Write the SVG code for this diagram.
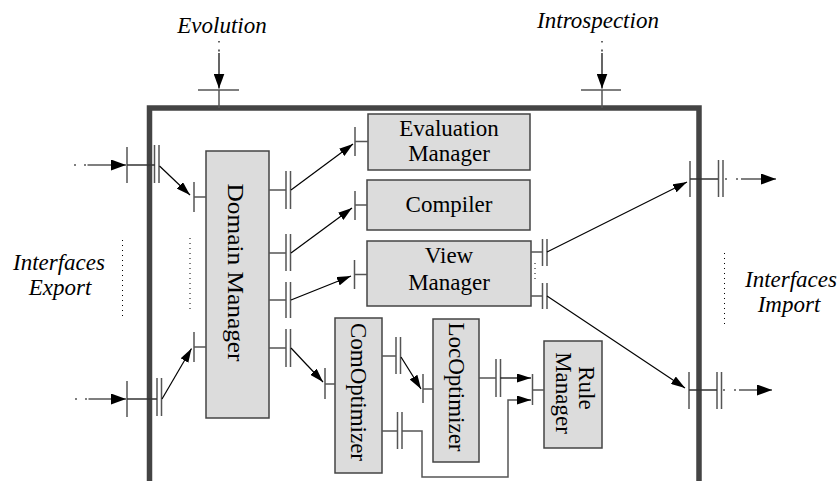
<svg xmlns="http://www.w3.org/2000/svg" width="840" height="481" viewBox="0 0 840 481">
<style>
.box{fill:#dcdcdc;stroke:#444;stroke-width:1.5}
.port{stroke:#555;stroke-width:1.5;fill:none}
.arr{stroke:#000;stroke-width:1.2;fill:none;marker-end:url(#ah)}
.ext{stroke:#000;stroke-width:1.2;fill:none;marker-end:url(#ahb)}
.dot{stroke:#000;stroke-width:1;stroke-dasharray:1 4;fill:none}
.lbl{font-family:"Liberation Serif","Times New Roman",serif;font-size:23px;fill:#000;text-anchor:middle}
.it{font-style:italic}
</style>
<defs>
<marker id="ah" markerWidth="14" markerHeight="9" refX="14" refY="4.5" orient="auto" markerUnits="userSpaceOnUse"><path d="M0,0 L14,4.5 L0,9 z" fill="#000"/></marker>
<marker id="ahb" markerWidth="15" markerHeight="11" refX="15" refY="5.5" orient="auto" markerUnits="userSpaceOnUse"><path d="M0,0 L15,5.5 L0,11 z" fill="#000"/></marker>
</defs>

<g id="system">
<path d="M149.5,481 V108 H699 V481" fill="none" stroke="#444" stroke-width="5.5"/>
<path class="port" d="M198,90 H239 M219,90 V108"/>
<path class="port" d="M581,90 H621 M602,90 V108"/>
<path class="port" d="M127,147 V183 M154.5,145 V183 M159,145 V183"/>
<path d="M127,165 H155" stroke="#333" stroke-width="1.5"/>
<path class="port" d="M127,381 V417 M157,378 V416 M161.5,378 V416"/>
<path d="M127,399 H157" stroke="#333" stroke-width="1.5"/>
<path class="port" d="M690,161 V197 M718.5,160 V197 M723,160 V197"/>
<path d="M690,179 H718" stroke="#333" stroke-width="1.5"/>
<path class="port" d="M689,372 V409 M717,372 V409 M721.5,372 V409"/>
<path d="M689,390 H717" stroke="#333" stroke-width="1.5"/>
<path class="dot" d="M122.5,240 V316 M190,238 V313 M724.5,253 V327"/>
<text class="lbl it" x="222" y="33">Evolution</text>
<text class="lbl it" x="598" y="28">Introspection</text>
<text class="lbl it"><tspan x="59" y="270">Interfaces</tspan><tspan x="60" y="295">Export</tspan></text>
<text class="lbl it"><tspan x="791" y="287">Interfaces</tspan><tspan x="789" y="312">Import</tspan></text>
</g>

<g id="domain-manager">
<rect class="box" x="206" y="151" width="63" height="267"/>
<path class="port" d="M194,182 V212 M194,197 H206 M194,332 V362 M194,347 H206"/>
<path class="port" d="M269,190 H286 M286,171 V209 M290.5,171 V209"/>
<path class="port" d="M269,253 H286 M286,234 V271 M290.5,234 V271"/>
<path class="port" d="M269,300 H286 M286,282 V318 M290.5,282 V318"/>
<path class="port" d="M269,348 H286 M286,329 V367 M290.5,329 V367"/>
<text class="lbl" transform="translate(228,272.5) rotate(90)" textLength="178" lengthAdjust="spacingAndGlyphs">Domain Manager</text>
</g>

<g id="evaluation-manager">
<rect class="box" x="368" y="114" width="162" height="56"/>
<path class="port" d="M355,127 V156 M355,141.5 H368"/>
<text class="lbl" font-size="22"><tspan x="449" y="135.5">Evaluation</tspan><tspan x="449" y="160.5">Manager</tspan></text>
</g>

<g id="compiler">
<rect class="box" x="367" y="180" width="163" height="50"/>
<path class="port" d="M355,191 V220 M355,205 H367"/>
<text class="lbl" x="449" y="212">Compiler</text>
</g>

<g id="view-manager">
<rect class="box" x="367" y="241" width="164" height="65"/>
<path class="port" d="M354.5,260 V289 M354.5,274.5 H367"/>
<path class="port" d="M531,252 H542.5 M542.5,239 V266 M547,239 V266"/>
<path class="port" d="M531,296 H542.5 M542.5,283 V309 M547,283 V309"/>
<path class="dot" d="M535,263 V281" stroke-dasharray="1 7"/>
<text class="lbl"><tspan x="449" y="263">View</tspan><tspan x="449" y="290">Manager</tspan></text>
</g>

<g id="com-optimizer">
<rect class="box" x="335" y="318" width="47" height="155"/>
<path class="port" d="M325,368 V399 M325,384 H335"/>
<path class="port" d="M382,356 H396 M396,337 V374 M400.5,337 V374"/>
<path class="port" d="M382,431 H397.5 M397.5,412 V449 M402,412 V449"/>
<text class="lbl" transform="translate(351,392) rotate(90)">ComOptimizer</text>
</g>

<g id="loc-optimizer">
<rect class="box" x="433" y="319" width="46" height="143"/>
<path class="port" d="M423,374 V403 M423,389 H433"/>
<path class="port" d="M479,378 H496 M496,359 V397 M500.5,359 V397"/>
<text class="lbl" transform="translate(448.5,387) rotate(90)">LocOptimizer</text>
</g>

<g id="rule-manager">
<rect class="box" x="544" y="341" width="58" height="107"/>
<path class="port" d="M532.5,374 V405 M532.5,390 H544"/>
<text class="lbl" transform="rotate(90)"><tspan x="388" y="-579">Rule</tspan><tspan x="393" y="-556">Manager</tspan></text>
</g>

<g id="connectors">
<path class="ext" d="M219,41 V88.5" stroke-dasharray="1.5 7 2 1.5 200"/>
<path class="ext" d="M602,41 V88.5" stroke-dasharray="1.5 7 2 1.5 200"/>
<path class="ext" d="M74,165 H126" stroke-dasharray="2 8 2 1.5 200"/>
<path class="ext" d="M75,399 H126" stroke-dasharray="2 8 2 1.5 200"/>
<path class="ext" d="M725,179 H776" stroke-dasharray="2 9 2 3 200"/>
<path class="ext" d="M723,390 H772" stroke-dasharray="2 9 2 3 200"/>
<path class="arr" d="M159.5,166 L190,195"/>
<path class="arr" d="M162,399 L191.5,348.5"/>
<path class="arr" d="M291,190 L353,144"/>
<path class="arr" d="M291,253 L352,208"/>
<path class="arr" d="M291,300 L351,276"/>
<path class="arr" d="M291,348 L323,382"/>
<path class="arr" d="M547,252 L687,182"/>
<path class="arr" d="M547,296 L685,388"/>
<path class="arr" d="M401,357 L421,389"/>
<path class="arr" d="M500.5,378 H531"/>
<path d="M402,431 H422 V477 H508 V400 H518" fill="none" stroke="#555" stroke-width="1.5"/>
<path class="arr" d="M517,400 H531"/>
</g>
</svg>
